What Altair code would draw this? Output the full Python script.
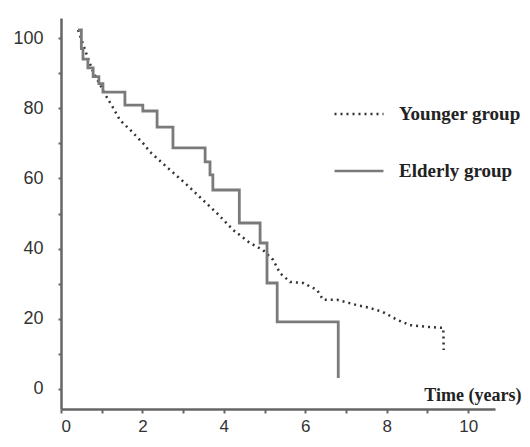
import altair as alt
import pandas as pd

groups = ["Younger group", "Elderly group"]

young_t = [0.42, 0.66, 0.79, 1.13, 1.28, 1.45, 1.70, 2.01, 2.19, 2.68, 3.10, 3.49, 3.83,
           4.23, 4.64, 4.96, 5.21, 5.38, 5.63, 5.95, 6.29, 6.44, 6.78, 7.27, 7.59, 7.91,
           8.26, 8.57, 8.99, 9.39, 9.40]
young_s = [102.3, 94.3, 90.3, 83.0, 80.1, 76.6, 73.8, 70.1, 67.5, 62.4, 58.1, 53.8, 50.1,
           45.3, 41.6, 39.6, 36.8, 33.0, 30.5, 30.2, 28.2, 25.4, 25.4, 23.9, 23.1, 21.9,
           19.7, 18.2, 17.7, 17.4, 11.1]

elder_t = [0.42, 0.50, 0.54, 0.66, 0.79, 0.93, 1.03, 1.57, 2.01, 2.36, 2.75, 3.54, 3.66,
           3.73, 4.38, 4.89, 5.06, 5.31, 6.81]
elder_s = [102.3, 97.0, 94.0, 91.5, 89.0, 87.0, 84.6, 80.9, 79.2, 74.6, 68.7, 64.7, 61.0,
           56.7, 47.3, 41.6, 30.2, 19.1, 3.1]

x_ticks = [0, 0.5, 1, 1.5, 2, 2.5, 3, 3.5, 4, 4.5, 5, 5.5, 6, 6.5, 7, 7.5, 8, 8.5, 9, 9.5, 10, 10.5]
y_ticks = [0, 10, 20, 30, 40, 50, 60, 70, 80, 90, 100]

young = pd.DataFrame({"t": young_t, "s": young_s, "group": groups[0]})
elder = pd.DataFrame({"t": elder_t, "s": elder_s, "group": groups[1]})

x_enc = alt.X("t:Q", scale=alt.Scale(domain=[0, 10.66], nice=False, zero=False),
              axis=alt.Axis(values=x_ticks, format="d",
                            labelExpr="datum.value % 2 == 0 ? datum.label : ''",
                            title="Time (years)", titleX=460, titleY=-14, titleAlign="right",
                            titleBaseline="middle", titleAnchor="start",
                            titleFont="Liberation Serif", titleFontSize=18, titleFontWeight="bold",
                            titleColor="#222", tickSize=4, labelPadding=5, labelFontSize=17,
                            labelOverlap=False))
y_enc = alt.Y("s:Q", scale=alt.Scale(domain=[-5.7, 105.7], nice=False, zero=False),
              axis=alt.Axis(values=y_ticks, format="d",
                            labelExpr="datum.value % 20 == 0 ? datum.label : ''",
                            title=None, tickSize=3, labelPadding=15, labelOverlap=False))

legend = alt.Legend(title=None, orient="none", legendX=272, legendY=70,
                    symbolType="stroke", symbolSize=2401, symbolStrokeWidth=2.5,
                    labelFont="Liberation Serif", labelFontSize=19,
                    labelFontWeight="bold", labelColor="#222",
                    labelOffset=14, rowPadding=21)
color_enc = alt.Color("group:N", scale=alt.Scale(domain=groups, range=["#333333", "#7a7a7a"]),
                      legend=legend)
dash_enc = alt.StrokeDash("group:N", scale=alt.Scale(domain=groups, range=[[2, 4], [1, 0]]),
                          legend=legend)

l1 = alt.Chart(young).mark_line(strokeWidth=2.5, interpolate="linear").encode(
    x=x_enc, y=y_enc, color=color_enc, strokeDash=dash_enc)
l2 = alt.Chart(elder).mark_line(strokeWidth=2.8, interpolate="step-after").encode(
    x=x_enc, y=y_enc, color=color_enc, strokeDash=dash_enc)

chart = alt.layer(l1, l2).properties(
    width=434, height=391, autosize=alt.AutoSizeParams(type="none"),
    padding={"left": 53, "top": 10, "right": 27, "bottom": 25}
).configure_view(stroke=None).configure_axis(
    grid=False, domainColor="#666", domainWidth=2.5, tickColor="#666", tickWidth=2,
    labelFont="Liberation Sans", labelFontSize=18, labelColor="#333"
)

chart.save("out.html", embed_options={"renderer": "svg", "actions": False})
